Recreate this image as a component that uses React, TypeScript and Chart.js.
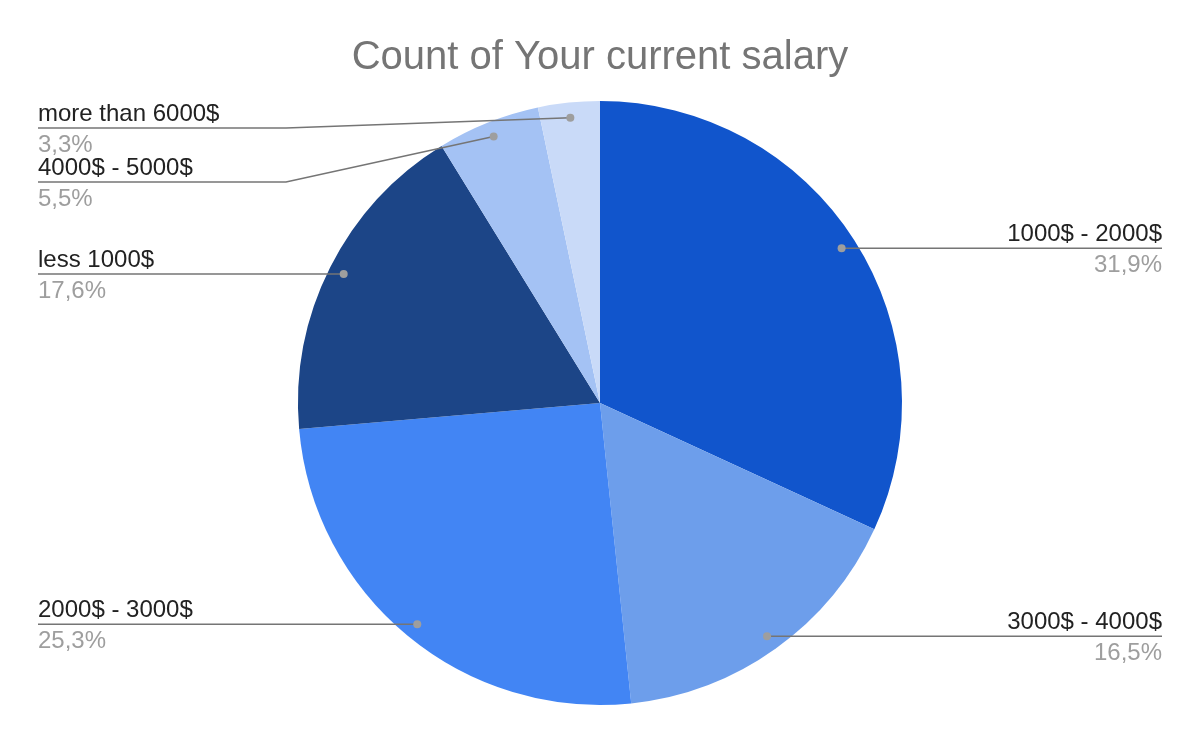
import React, { useEffect, useRef } from "react";
import { Chart, registerables } from "chart.js";

Chart.register(...registerables);

const categories = [
  "1000$ - 2000$",
  "3000$ - 4000$",
  "2000$ - 3000$",
  "less 1000$",
  "4000$ - 5000$",
  "more than 6000$",
];
const counts = [29, 15, 23, 16, 5, 3];
const colors = ["#1155cc", "#6d9eeb", "#4285f4", "#1c4587", "#a4c2f4", "#c9daf8"];
const chartTitle = "Count of Your current salary";

// label layout: side, line y (null = dot y), kink x (null = straight)
const labelLayout = [
  { side: "right", lineY: null, kinkX: null },
  { side: "right", lineY: null, kinkX: null },
  { side: "left", lineY: null, kinkX: null },
  { side: "left", lineY: null, kinkX: null },
  { side: "left", lineY: 182, kinkX: 286 },
  { side: "left", lineY: 128, kinkX: 286 },
];

const FONT = "Arial, 'Liberation Sans', Helvetica, sans-serif";

const labelPlugin = {
  id: "leaderLabels",
  afterDraw(chart: any) {
    const ctx = chart.ctx;
    const meta = chart.getDatasetMeta(0);
    const data = chart.data.datasets[0].data as number[];
    const total = data.reduce((a, b) => a + b, 0);
    ctx.save();
    // title
    ctx.font = `40px ${FONT}`;
    ctx.fillStyle = "#757575";
    ctx.textAlign = "center";
    ctx.textBaseline = "alphabetic";
    ctx.fillText(chartTitle, 600, 69);

    const leftX = 38;
    const rightX = 1162;
    meta.data.forEach((arc: any, i: number) => {
      const p = arc.getProps(["x", "y", "startAngle", "endAngle", "outerRadius"], true);
      const mid = (p.startAngle + p.endAngle) / 2;
      const r = p.outerRadius * 0.95;
      const dx = p.x + Math.cos(mid) * r;
      const dy = p.y + Math.sin(mid) * r;
      const L = labelLayout[i];
      const ly = L.lineY == null ? dy : L.lineY;
      ctx.strokeStyle = "#757575";
      ctx.lineWidth = 1.5;
      ctx.beginPath();
      if (L.side === "right") {
        ctx.moveTo(dx, dy);
        ctx.lineTo(rightX, ly);
      } else {
        ctx.moveTo(leftX, ly);
        if (L.kinkX != null) ctx.lineTo(L.kinkX, ly);
        ctx.lineTo(dx, dy);
      }
      ctx.stroke();
      ctx.fillStyle = "#9e9e9e";
      ctx.beginPath();
      ctx.arc(dx, dy, 4, 0, Math.PI * 2);
      ctx.fill();

      const pct = ((data[i] / total) * 100).toFixed(1).replace(".", ",") + "%";
      ctx.font = `24px ${FONT}`;
      ctx.textAlign = L.side === "right" ? "right" : "left";
      const tx = L.side === "right" ? rightX : leftX;
      ctx.fillStyle = "#222222";
      ctx.fillText(chart.data.labels[i], tx, ly - 7);
      ctx.fillStyle = "#9e9e9e";
      ctx.fillText(pct, tx, ly + 24);
    });
    ctx.restore();
  },
};

export default function App() {
  const ref = useRef<HTMLCanvasElement | null>(null);
  useEffect(() => {
    if (!ref.current) return;
    const chart = new Chart(ref.current, {
      type: "pie",
      data: {
        labels: categories,
        datasets: [
          {
            data: counts,
            backgroundColor: colors,
            borderWidth: 0,
            hoverOffset: 0,
            offset: 0,
          },
        ],
      },
      options: {
        responsive: false,
        animation: false,
        layout: { padding: { top: 101, bottom: 37, left: 298, right: 298 } },
        plugins: {
          legend: { display: false },
          title: { display: false },
          tooltip: { enabled: false },
        },
      },
      plugins: [labelPlugin],
    });
    return () => chart.destroy();
  }, []);
  return (
    <div style={{ position: "absolute", left: 0, top: 0, width: 1200, height: 742, background: "#ffffff" }}>
      <canvas ref={ref} width={1200} height={742} style={{ display: "block" }} />
    </div>
  );
}
